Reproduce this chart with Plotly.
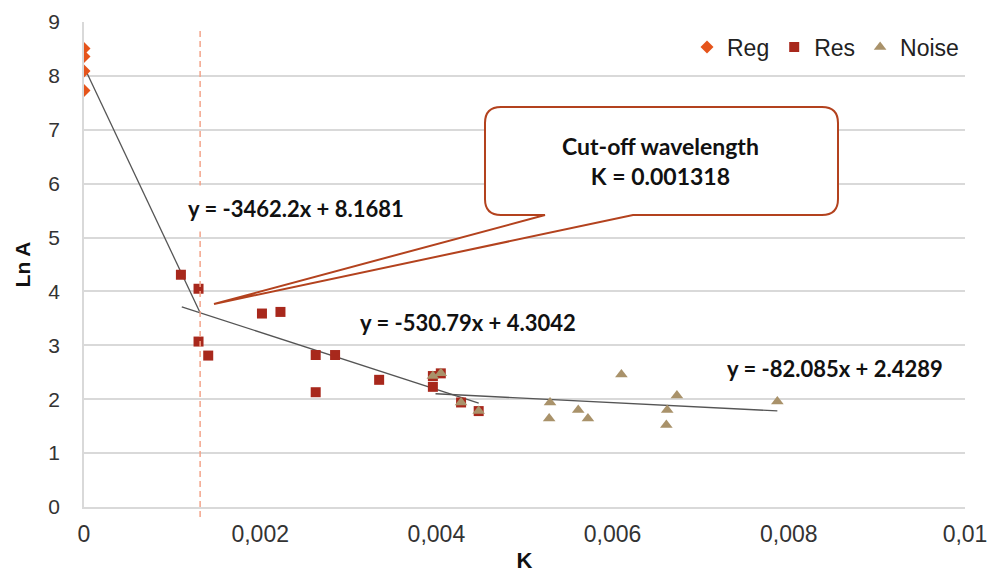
import plotly.graph_objects as go

# ---------------- data ----------------
reg_k = [0.0, 0.0, 0.0, 0.0]
reg_lna = [8.51, 8.36, 8.09, 7.73]

res_k = [0.00110, 0.00130, 0.00130, 0.00141, 0.00202, 0.00223, 0.00263, 0.00285,
         0.00263, 0.00335, 0.00396, 0.00396, 0.00405, 0.00428, 0.00448]
res_lna = [4.31, 4.05, 3.07, 2.81, 3.59, 3.62, 2.82, 2.82,
           2.13, 2.36, 2.43, 2.23, 2.48, 1.94, 1.78]

noise_k = [0.00396, 0.00405, 0.00428, 0.00448, 0.00529, 0.00528, 0.00561, 0.00572,
           0.00610, 0.00662, 0.00661, 0.00673, 0.00787]
noise_lna = [2.43, 2.48, 1.94, 1.78, 1.94, 1.64, 1.80, 1.64,
             2.46, 1.80, 1.52, 2.07, 1.96]

fit_slopes = [-3462.2, -530.79, -82.085]
fit_intercepts = [8.1681, 4.3042, 2.4289]
fit_x_start = [0.0, 0.00111, 0.00399]
fit_x_end = [0.001318, 0.00448, 0.00787]
fit_labels = ["y = -3462.2x + 8.1681", "y = -530.79x + 4.3042", "y = -82.085x + 2.4289"]

cutoff_k = 0.001318
callout_lines = ["Cut-off wavelength", "K = 0.001318"]

x_tickvals = [0, 0.002, 0.004, 0.006, 0.008, 0.01]
x_ticktext = ["0", "0,002", "0,004", "0,006", "0,008", "0,01"]
y_tickvals = [0, 1, 2, 3, 4, 5, 6, 7, 8, 9]

# ---------------- styles ----------------
C_REG = "#E5541B"
C_RES = "#A8281C"
C_NOISE = "#A9926A"
C_CALLOUT = "#B3421E"
C_DASH = "#F3A48A"
C_FIT = "#555555"
GRID = "#D9D9D9"
TICKFONT = "Liberation Sans, Arial, sans-serif"
LABELFONT = "Lato, Calibri, sans-serif"

W, H = 989, 573
ML, MR, MT, MB = 84, 24, 22, 66
PW, PH = W - ML - MR, H - MT - MB


def pxx(p):
    return (p - ML) / PW


def pxy(p):
    return (H - MB - p) / PH


fig = go.Figure()

# trend lines
for s, b, x0, x1 in zip(fit_slopes, fit_intercepts, fit_x_start, fit_x_end):
    fig.add_trace(go.Scatter(
        x=[x0, x1], y=[s * x0 + b, s * x1 + b], mode="lines",
        line=dict(color=C_FIT, width=1.3), showlegend=False, hoverinfo="skip"))

fig.add_trace(go.Scatter(x=reg_k, y=reg_lna, mode="markers", name="Reg",
                         marker=dict(symbol="diamond", size=10, color=C_REG)))
fig.add_trace(go.Scatter(x=res_k, y=res_lna, mode="markers", name="Res",
                         marker=dict(symbol="square", size=10, color=C_RES)))
fig.add_trace(go.Scatter(x=noise_k, y=noise_lna, mode="markers", name="Noise",
                         marker=dict(symbol="triangle-up", size=11, color=C_NOISE)))

shapes = []
# cut-off dashed line
shapes.append(dict(type="line", xref="x", yref="paper", x0=cutoff_k, x1=cutoff_k,
                   y0=pxy(517), y1=pxy(27), line=dict(color=C_DASH, width=1.5, dash="6px,4px"),
                   layer="above"))

# callout (rounded box with wedge pointer)
L, R, T, B, r = 485, 838, 107, 215, 16
w1, w2 = 545, 633
tipx, tipy = 214, 304
pts = [("M", L + r, T), ("L", R - r, T), ("Q", R, T, R, T + r), ("L", R, B - r),
       ("Q", R, B, R - r, B), ("L", w2, B), ("L", tipx, tipy), ("L", w1, B),
       ("L", L + r, B), ("Q", L, B, L, B - r), ("L", L, T + r), ("Q", L, T, L + r, T)]
path = ""
for p in pts:
    cmd = p[0]
    coords = p[1:]
    seg = []
    for i in range(0, len(coords), 2):
        seg.append(f"{pxx(coords[i]):.5f},{pxy(coords[i + 1]):.5f}")
    path += cmd + " " + " ".join(seg) + " "
path += "Z"
shapes.append(dict(type="path", xref="paper", yref="paper", path=path,
                   fillcolor="white", line=dict(color=C_CALLOUT, width=2), layer="above"))

annotations = []
annotations.append(dict(xref="paper", yref="paper", x=pxx(660), y=pxy(161),
                        text="<b>" + callout_lines[0] + "</b><br><b>" + callout_lines[1] + "</b>",
                        showarrow=False, font=dict(family=LABELFONT, size=23, color="#111111"),
                        align="center", xanchor="center", yanchor="middle"))

label_pos = [(296, 209), (468, 322), (835, 368)]
for txt, (lx, ly) in zip(fit_labels, label_pos):
    annotations.append(dict(xref="paper", yref="paper", x=pxx(lx), y=pxy(ly),
                            text="<b>" + txt + "</b>", showarrow=False,
                            font=dict(family=LABELFONT, size=22, color="#111111"),
                            xanchor="center", yanchor="middle",
                            bgcolor="rgba(255,255,255,1)" if txt == fit_labels[0] else None,
                            borderpad=9 if txt == fit_labels[0] else 1))

fig.update_layout(
    width=W, height=H,
    margin=dict(l=ML, r=MR, t=MT, b=MB, autoexpand=False),
    paper_bgcolor="white", plot_bgcolor="white",
    shapes=shapes, annotations=annotations,
    legend=dict(orientation="h", x=pxx(964), xanchor="right", y=pxy(47), yanchor="middle",
                font=dict(family=TICKFONT, size=23, color="#222222"),
                bgcolor="rgba(0,0,0,0)", itemwidth=30, tracegroupgap=0),
    xaxis=dict(range=[0, 0.01], tickvals=x_tickvals, ticktext=x_ticktext,
               showgrid=False, zeroline=False, showline=True, linecolor=GRID, linewidth=1.5,
               tickfont=dict(family=TICKFONT, size=23, color="#333333"),
               ticks="", ticklabelstandoff=6, ticklabeloverflow="allow", automargin=False,
               title=dict(text="<b>K</b>", font=dict(family=TICKFONT, size=22, color="#111111"),
                          standoff=12)),
    yaxis=dict(range=[0, 9], tickvals=y_tickvals, showgrid=True, gridcolor=GRID, gridwidth=1.5,
               zeroline=False, showline=True, linecolor=GRID, linewidth=1.5,
               tickfont=dict(family=TICKFONT, size=21, color="#333333"),
               ticks="", ticklabelstandoff=18, automargin=False,
               title=dict(text="<b>Ln A</b>", font=dict(family=TICKFONT, size=21, color="#111111"),
                          standoff=12)),
)

fig.write_html("out.html")
